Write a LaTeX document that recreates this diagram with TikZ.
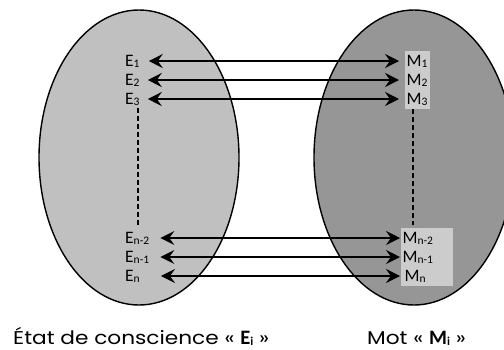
\documentclass[tikz,border=0pt]{standalone}
\usepackage{fontspec}
\setmainfont{Carlito}
\newfontfamily\capfont[FakeStretch=1.17]{Poppins}
\newfontfamily\labfont{Carlito}
\usetikzlibrary{arrows.meta,calc}
\definecolor{lgray}{HTML}{C0C0C0}
\definecolor{dgray}{HTML}{969696}
\definecolor{mbox}{HTML}{CCCCCC}
\newcommand\sbs[1]{\raisebox{-1.3pt}{\fontsize{11.5}{11.5}\selectfont #1}}
\newcommand\bsub[1]{\raisebox{-1.3pt}{\fontsize{12}{12}\selectfont #1}}
\begin{document}
\begin{tikzpicture}[x=1pt,y=-1pt,
  lab/.style={font=\fontsize{17.5}{17.5}\selectfont, inner xsep=0pt, inner ysep=0pt,
    text height=12pt, text depth=2pt, anchor=west},
  mlab/.style={lab, fill=mbox, inner xsep=1.5pt, inner ysep=2.75pt, minimum height=19.5pt, align=left},
  arr/.style={{Stealth[length=14pt,width=14pt,inset=5pt]}-{Stealth[length=14pt,width=14pt,inset=5pt]}, line width=1.1pt},
  ell/.style={draw, line width=1.4pt},
  dsh/.style={line width=1.1pt, dash pattern=on 5pt off 3pt},
  captext/.style={font=\capfont\fontsize{18.5}{18.5}\selectfont, inner sep=0pt, anchor=base west}]
\useasboundingbox (0,0) rectangle (504,349);
\begin{scope}
  \clip (0,0) rectangle (504,349);
  \draw[ell, fill=lgray] (139,157.5) ellipse [x radius=100pt, y radius=147.5pt];
  \draw[ell, fill=dgray] (414,157.5) ellipse [x radius=100pt, y radius=147.5pt];
\end{scope}
% left labels
\node[lab] (E1) at (125,61) {E\sbs{1}};
\node[lab] (E2) at (125,80) {E\sbs{2}};
\node[lab] (E3) at (125,99) {E\sbs{3}};
\node[lab] (En2) at (125,238) {E\sbs{n-2}};
\node[lab] (En1) at (125,257) {E\sbs{n-1}};
\node[lab] (En) at (125,276) {E\sbs{n}};
% right labels
\node[mlab, text width=22pt] (M1) at (405,61) {M\sbs{1}};
\node[mlab, text width=22pt] (M2) at (405,80) {M\sbs{2}};
\node[mlab, text width=22pt] (M3) at (405,99) {M\sbs{3}};
\node[mlab, text width=49pt] (Mn2) at (401,238) {M\sbs{n-2}};
\node[mlab, text width=49pt] (Mn1) at (401,257) {M\sbs{n-1}};
\node[mlab, text width=49pt] (Mn) at (401,276) {\hspace{2pt}M\sbs{n}};
% arrows
\draw[arr, shorten <=9pt, shorten >=6pt] (E1.east) -- (M1.west);
\draw[arr, shorten <=8pt, shorten >=6pt] (E2.east) -- (M2.west);
\draw[arr, shorten <=8pt, shorten >=6pt] (E3.east) -- (M3.west);
\draw[arr, shorten <=11pt, shorten >=1pt] (En2.east) -- (Mn2.west);
\draw[arr, shorten <=11pt, shorten >=1pt] (En1.east) -- (Mn1.west);
\draw[arr, shorten <=21pt, shorten >=1pt] (En.east) -- (Mn.west);
% dashed
\coordinate (dLa) at ($(E3.south west)+(13,2)$);
\coordinate (dLb) at (dLa |- En2.north);
\coordinate (dRa) at ($(M3.south west)+(8,0)$);
\coordinate (dRb) at (dRa |- Mn2.north);
\draw[dsh, shorten >=6pt] (dLa) -- (dLb);
\draw[dsh, shorten >=3pt] (dRa) -- (dRb);
% captions
\node[captext] (capE) at (13,344.5) {État de conscience « {\labfont\bfseries\fontsize{20.5}{20.5}\selectfont E\bsub{i}} »};
\node[captext] (capM) at (367,344.5) {Mot « {\labfont\bfseries\fontsize{20.5}{20.5}\selectfont M\bsub{i}} »};
\end{tikzpicture}
\end{document}
